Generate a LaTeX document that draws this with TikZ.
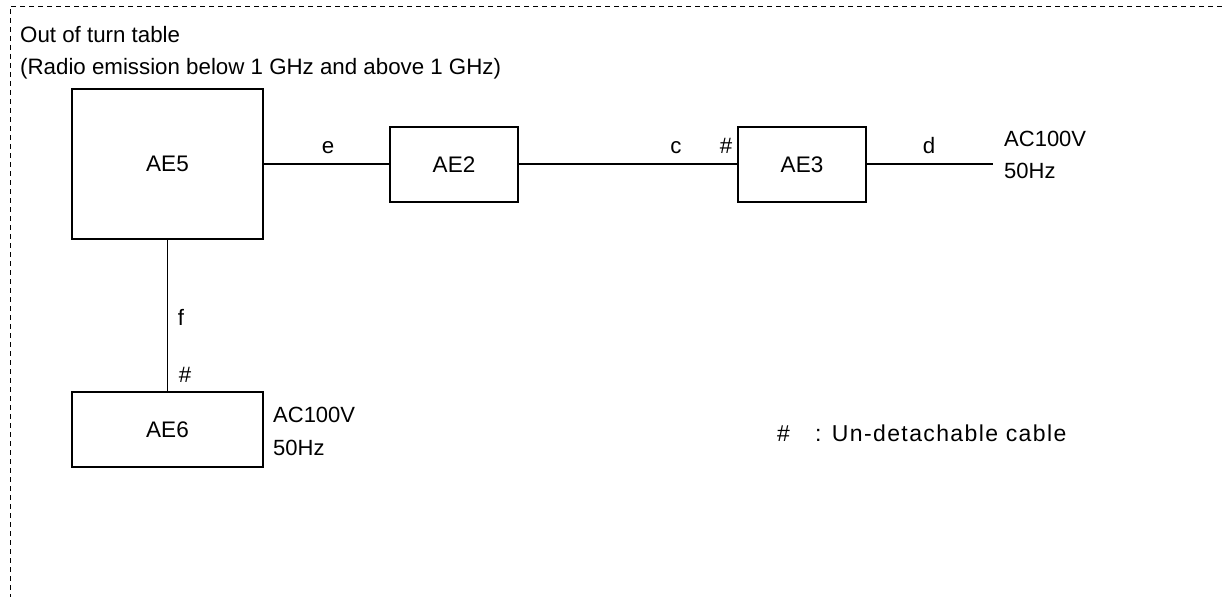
\documentclass[tikz,border=0pt]{standalone}
\usepackage{fontspec}
\setmainfont{Liberation Sans}
\begin{document}
\begin{tikzpicture}[x=1pt,y=-1pt,
  box/.style={draw,line width=1.4pt,rectangle,inner sep=0pt,font=\fontsize{22.5}{26}\selectfont},
  lbl/.style={inner sep=0pt,font=\fontsize{22.3}{26}\selectfont},
  wire/.style={line width=1.4pt}]
\useasboundingbox (0,0) rectangle (1222,597);
\draw[line width=1pt,dash pattern=on 5pt off 4pt] (1222,6) -- (10,6) -- (10,597);
\node[lbl,anchor=base west] (t1) at (20,42) {Out of turn table};
\node[lbl,anchor=base west] (t2) at (20,74) {(Radio emission below 1 GHz and above 1 GHz)};
\node[box,minimum width=191pt,minimum height=150pt] (ae5) at (167.5,164) {AE5};
\node[box,minimum width=128pt,minimum height=75pt] (ae2) at (454,164.5) {AE2};
\node[box,minimum width=128pt,minimum height=75pt] (ae3) at (802,164.5) {AE3};
\node[box,minimum width=191pt,minimum height=75pt] (ae6) at (167.5,429.5) {AE6};
\coordinate (pw1) at (993,164);
\draw[wire] (ae5.east |- 0,164) -- (ae2.west |- 0,164);
\draw[wire] (ae2.east |- 0,164) -- (ae3.west |- 0,164);
\draw[wire] (ae3.east |- 0,164) -- (pw1);
\draw[wire] (ae5.south) -- (ae6.north);
\node[lbl,anchor=base] (le) at (328,153) {e};
\node[lbl,anchor=base] (lc) at (676,153) {c};
\node[lbl,anchor=base] (lh1) at (726,153) {\#};
\node[lbl,anchor=base] (ld) at (929,153) {d};
\node[lbl,anchor=base west,font=\fontsize{22}{26}\selectfont] (p1a) at (1004,146) {AC100V};
\node[lbl,anchor=base west,font=\fontsize{22}{26}\selectfont] (p1b) at (1004,178) {50Hz};
\node[lbl,anchor=base] (lf) at (181,325) {f};
\node[lbl,anchor=base] (lh2) at (185,382) {\#};
\node[lbl,anchor=base west,font=\fontsize{22}{26}\selectfont] (p2a) at (273,422) {AC100V};
\node[lbl,anchor=base west,font=\fontsize{22}{26}\selectfont] (p2b) at (273,455) {50Hz};
\node[lbl,anchor=base west,font=\fontsize{23}{26}\selectfont] (lg1) at (777,441) {\#};
\node[lbl,anchor=base west,font=\fontsize{23}{26}\selectfont\addfontfeatures{LetterSpace=6}] (lg2) at (815,441) {: Un-detachable cable};
\end{tikzpicture}
\end{document}
